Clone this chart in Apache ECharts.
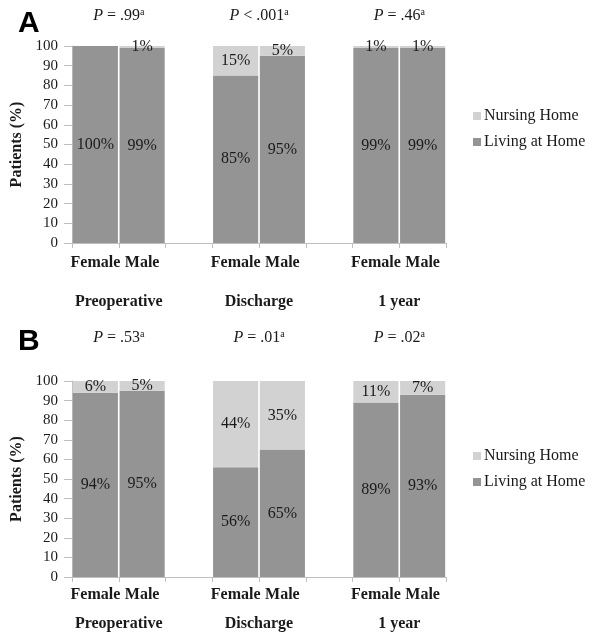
<!DOCTYPE html>
<html>
<head>
<meta charset="utf-8">
<script src="https://cdn.jsdelivr.net/npm/echarts@6/dist/echarts.min.js"></script>
<style>
  html, body { margin: 0; padding: 0; background: #fff; }
  #chart { width: 594px; height: 634px; }
</style>
</head>
<body>
<div id="chart"></div>
<script>
// ---- data ----
const categories = ['Female', 'Male', '', 'Female', 'Male', '', 'Female', 'Male'];
const groupLabels = ['', 'Preoperative', '', '', 'Discharge', '', '', '1 year', ''];
const pValuesA = ['= .99', '< .001', '= .46'];
const pValuesB = ['= .53', '= .01', '= .02'];
const livingA = [100, 99, null, 85, 95, null, 99, 99];
const nursingA = [0, 1, null, 15, 5, null, 1, 1];
const livingB = [94, 95, null, 56, 65, null, 89, 93];
const nursingB = [6, 5, null, 44, 35, null, 11, 7];
const yTicks = { min: 0, max: 100, interval: 10 };
const panelTitles = ['A', 'B'];

// ---- style ----
const SERIF = 'Liberation Serif';
const DARK = '#949494';
const LIGHT = '#d2d2d2';
const AXIS = '#bfbfbf';
const TXT = '#1a1a1a';

function pLabels(pv) {
  const arr = groupLabels.map(() => '');
  [1, 4, 7].forEach((idx, k) => { arr[idx] = '{i|P} ' + pv[k] + '{s|a}'; });
  return arr;
}

const panels = [
  { top: 46, height: 197, pv: pValuesA, living: livingA, nursing: nursingA,
    catMargin: 12, grpMargin: 51, pMargin: 21, legendTop: 103, titleTop: 4 },
  { top: 381, height: 196, pv: pValuesB, living: livingB, nursing: nursingB,
    catMargin: 10, grpMargin: 39, pMargin: 34, legendTop: 443, titleTop: 322 }
];

const grid = [], xAxis = [], yAxis = [], series = [], legend = [], title = [];
panels.forEach((p, i) => {
  grid.push({ left: 72, width: 374, top: p.top, height: p.height });
  // category axis: Female / Male
  xAxis.push({
    type: 'category', gridIndex: i, data: categories, position: 'bottom',
    axisLine: { lineStyle: { color: AXIS, width: 1 } },
    axisTick: { show: true, length: 5, lineStyle: { color: AXIS } },
    axisLabel: { interval: 0, margin: p.catMargin, fontFamily: SERIF, fontSize: 16,
                 fontWeight: 'bold', color: TXT },
    splitLine: { show: false }
  });
  // group labels
  xAxis.push({
    type: 'category', gridIndex: i, data: groupLabels, boundaryGap: false, position: 'bottom',
    axisLine: { show: false }, axisTick: { show: false }, splitLine: { show: false },
    axisLabel: { interval: 0, margin: p.grpMargin, fontFamily: SERIF, fontSize: 16,
                 fontWeight: 'bold', color: TXT }
  });
  // p-values at top
  xAxis.push({
    type: 'category', gridIndex: i, data: pLabels(p.pv), boundaryGap: false, position: 'top',
    axisLine: { show: false }, axisTick: { show: false }, splitLine: { show: false },
    axisLabel: { interval: 0, margin: p.pMargin, fontFamily: SERIF, fontSize: 16, color: TXT,
      rich: {
        i: { fontFamily: SERIF, fontSize: 16, fontStyle: 'italic', color: TXT },
        s: { fontFamily: SERIF, fontSize: 10, color: TXT, padding: [0, 0, 8, 0] }
      } }
  });
  yAxis.push({
    type: 'value', gridIndex: i, min: yTicks.min, max: yTicks.max, interval: yTicks.interval,
    name: 'Patients (%)', nameLocation: 'middle', nameGap: 44, nameRotate: 90,
    nameTextStyle: { fontFamily: SERIF, fontSize: 16, fontWeight: 'bold', color: TXT },
    axisLine: { show: true, lineStyle: { color: AXIS } },
    axisTick: { show: true, inside: false, length: 8, lineStyle: { color: AXIS } },
    axisLabel: { margin: 14, fontFamily: SERIF, fontSize: 15, color: TXT },
    splitLine: { show: false }
  });
  const lbl = {
    show: true, position: 'inside', fontFamily: SERIF, fontSize: 16, color: TXT,
    formatter: (q) => (q.value ? q.value + '%' : '')
  };
  series.push({
    name: 'Living at Home', type: 'bar', stack: 'p' + i, xAxisIndex: i * 3, yAxisIndex: i,
    data: p.living, barCategoryGap: '3.5%', itemStyle: { color: DARK }, label: lbl,
    animation: false
  });
  series.push({
    name: 'Nursing Home', type: 'bar', stack: 'p' + i, xAxisIndex: i * 3, yAxisIndex: i,
    data: p.nursing, barCategoryGap: '3.5%', itemStyle: { color: LIGHT }, label: lbl,
    animation: false
  });
  legend.push({
    data: ['Nursing Home', 'Living at Home'], orient: 'vertical', left: 468, top: p.legendTop,
    icon: 'rect', itemWidth: 8, itemHeight: 8, itemGap: 10, selectedMode: false,
    textStyle: { fontFamily: SERIF, fontSize: 16, color: TXT, padding: [0, 0, 0, -2] }
  });
  title.push({
    text: panelTitles[i], left: 13, top: p.titleTop,
    textStyle: { fontFamily: 'Liberation Sans', fontSize: 30, fontWeight: 'bold', color: '#000' }
  });
});

const chart = echarts.init(document.getElementById('chart'), null, { renderer: 'canvas' });
chart.setOption({
  backgroundColor: '#fff', animation: false,
  title, grid, xAxis, yAxis, series, legend
});
</script>
</body>
</html>
